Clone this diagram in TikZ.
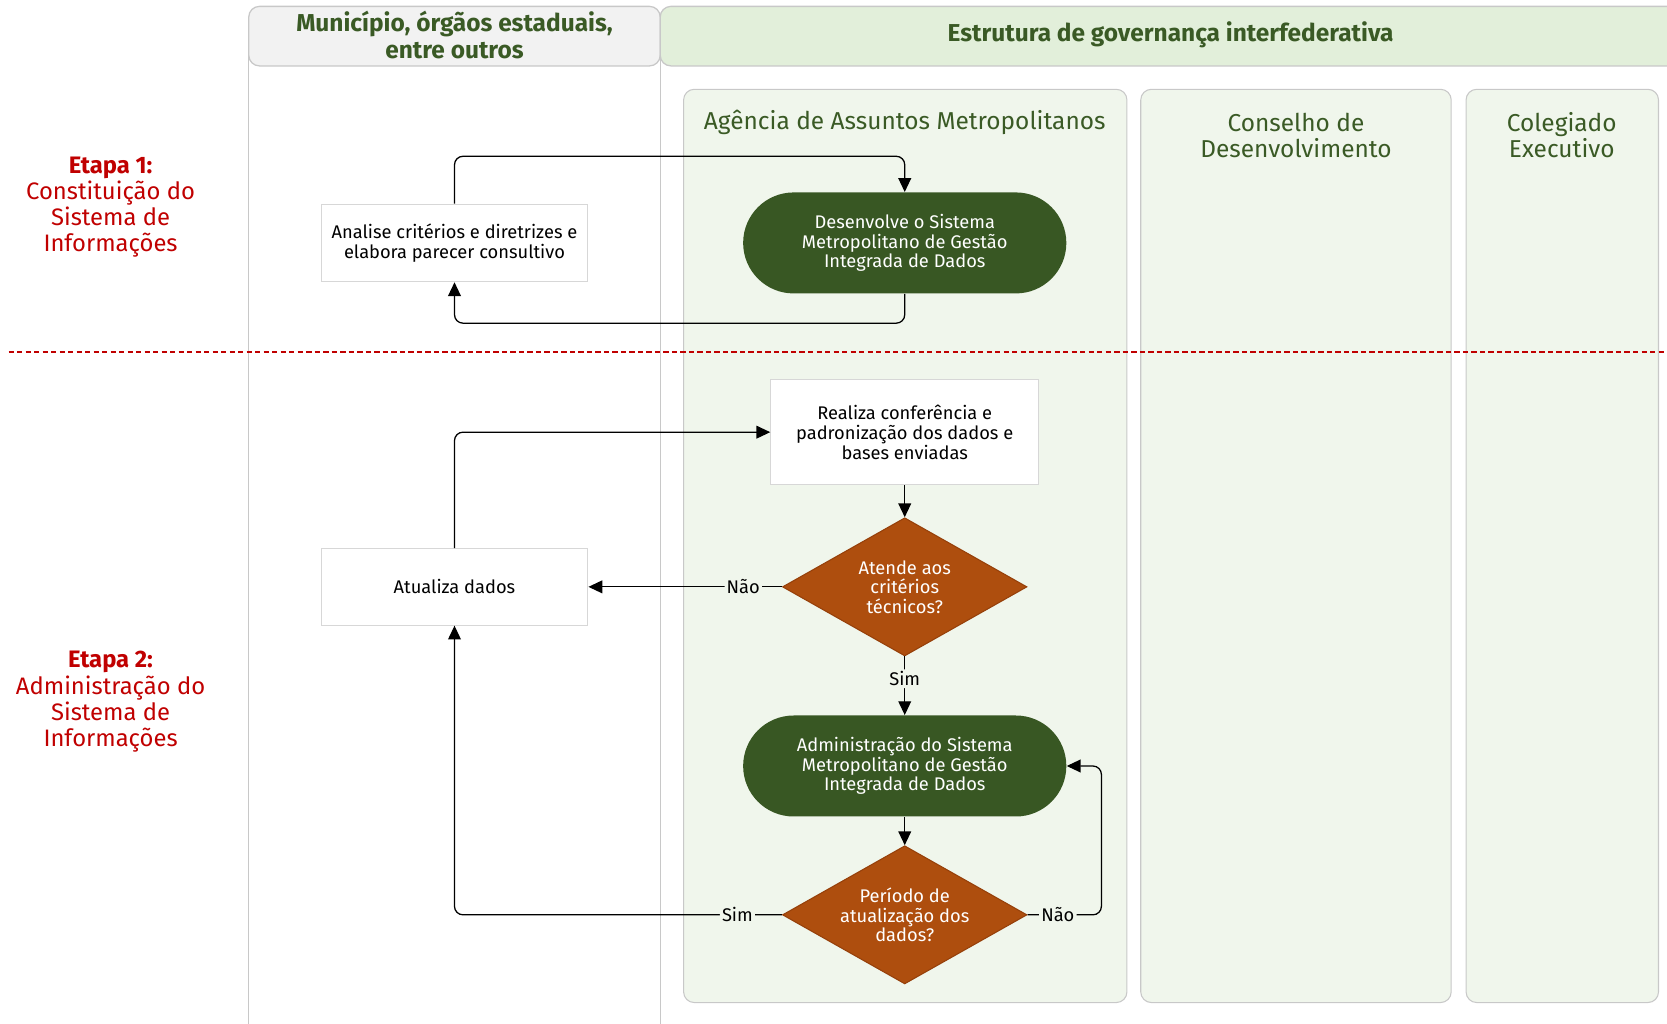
\documentclass[tikz,border=0pt]{standalone}
\usepackage{fontspec}
\setmainfont{Fira Sans}
\usetikzlibrary{shapes.geometric,arrows.meta}
\definecolor{termgreen}{RGB}{56,87,35}
\definecolor{headgreen}{RGB}{58,90,37}
\definecolor{decbrown}{RGB}{174,78,14}
\definecolor{decedge}{RGB}{150,64,10}
\definecolor{lanefill}{RGB}{240,246,236}
\definecolor{headfillg}{RGB}{226,239,218}
\definecolor{headfillgray}{RGB}{242,242,242}
\definecolor{bordergray}{RGB}{200,200,200}
\definecolor{boxgray}{RGB}{215,215,215}
\definecolor{etapared}{RGB}{192,0,0}
\begin{document}
\begin{tikzpicture}[x=0.5pt,y=-0.5pt,
  lanebox/.style={draw=bordergray, fill=lanefill, rounded corners=5pt, line width=0.5pt},
  headbox/.style={draw=bordergray, rounded corners=5pt, line width=0.6pt},
  headtext/.style={text=headgreen, font=\bfseries\fontsize{11.5}{12.5}\selectfont, align=center},
  lanetitle/.style={text=headgreen, font=\fontsize{11.5}{12.2}\selectfont, align=center},
  etapa/.style={text=etapared, font=\fontsize{11.2}{12.25}\selectfont, align=center},
  procbox/.style={draw=boxgray, fill=white, line width=0.5pt, minimum width=125.5pt,
    minimum height=36.5pt, align=center, inner sep=2pt, font=\fontsize{8.6}{9.4}\selectfont},
  terminal/.style={fill=termgreen, text=white, rounded corners=23.75pt, minimum width=152pt,
    minimum height=47.5pt, align=center, inner sep=2pt, font=\fontsize{8.6}{9.2}\selectfont},
  decision/.style={diamond, fill=decbrown, draw=decedge, line width=0.5pt, text=white,
    shape aspect=1.77, minimum width=115pt, minimum height=65pt, inner sep=0pt,
    align=center, font=\fontsize{8.6}{9.2}\selectfont},
  conn/.style={draw, line width=0.6pt, rounded corners=4pt, -{Triangle[width=6pt,length=6.5pt]}},
  lbl/.style={fill=lanefill, inner sep=1pt, font=\fontsize{8.6}{9.5}\selectfont}]
\useasboundingbox (0,0) rectangle (1568,963);

% swimlane backgrounds
\path[lanebox] (643,84) rectangle (1060,943);
\path[lanebox] (1073,84) rectangle (1365,943);
\path[lanebox] (1379,84) rectangle (1560,943);

% pool borders and headers
\draw[bordergray, line width=0.6pt] (234,40) -- (234,975);
\draw[bordergray, line width=0.6pt] (621,40) -- (621,975);
\path[headbox, fill=headfillgray] (234,6) rectangle (621,62);
\path[headbox, fill=headfillg] (621,6) rectangle (1590,62);

\node[headtext] (hmun) at (427.5,33) {Município, órgãos estaduais,\\entre outros};
\node[headtext] (hgov) at (1101,33) {Estrutura de governança interfederativa};

\node[lanetitle] (lag) at (851,115) {Agência de Assuntos Metropolitanos};
\node[lanetitle] (lcd) at (1219,127) {Conselho de\\Desenvolvimento};
\node[lanetitle] (lce) at (1469,127) {Colegiado\\Executivo};

% stage separator
\draw[etapared, line width=0.7pt, dash pattern=on 2.5pt off 1.5pt] (8,331) -- (1568,331);

\node[etapa] (e1) at (104,195) {\textbf{Etapa 1:}\\Constituição do\\Sistema de\\Informações};
\node[etapa] (e2) at (104,660) {\textbf{Etapa 2:}\\Administração do\\Sistema de\\Informações};

% flow nodes
\node[procbox] (A) at (427.5,228.5) {Analise critérios e diretrizes e\\elabora parecer consultivo};
\node[terminal] (T1) at (851,228.5) {Desenvolve o Sistema\\Metropolitano de Gestão\\Integrada de Dados};
\node[procbox, minimum width=126pt, minimum height=49.5pt] (B) at (851,406.5)
  {Realiza conferência e\\padronização dos dados e\\bases enviadas};
\node[decision] (D1) at (851,552) {Atende aos\\critérios\\técnicos?};
\node[procbox, minimum height=36pt] (C) at (427.5,552) {Atualiza dados};
\node[terminal] (T2) at (851,720.5) {Administração do Sistema\\Metropolitano de Gestão\\Integrada de Dados};
\node[decision] (D2) at (851,860.5) {Período de\\atualização dos\\dados?};

\coordinate (bend1) at (851,147);
\coordinate (bend2) at (427.5,304);
\coordinate (loopR) at (1036,860.5);

% connectors
\draw[conn] (A.north) |- (bend1) -- (T1.north);
\draw[conn] (T1.south) |- (bend2) -- (A.south);
\draw[conn] (C.north) |- (B.west);
\draw[conn] (B.south) -- (D1.north);
\draw[conn] (D1.west) -- node[lbl, pos=0.2] {Não} (C.east);
\draw[conn] (D1.south) -- node[lbl, pos=0.38] {Sim} (T2.north);
\draw[conn] (T2.south) -- (D2.north);
\draw[conn] (D2.west) -- node[lbl, pos=0.136] {Sim} (D2.west -| C.south) -- (C.south);
\draw[conn] (D2.east) -- node[lbl, pos=0.41] {Não} (loopR) |- (T2.east);
\end{tikzpicture}
\end{document}
